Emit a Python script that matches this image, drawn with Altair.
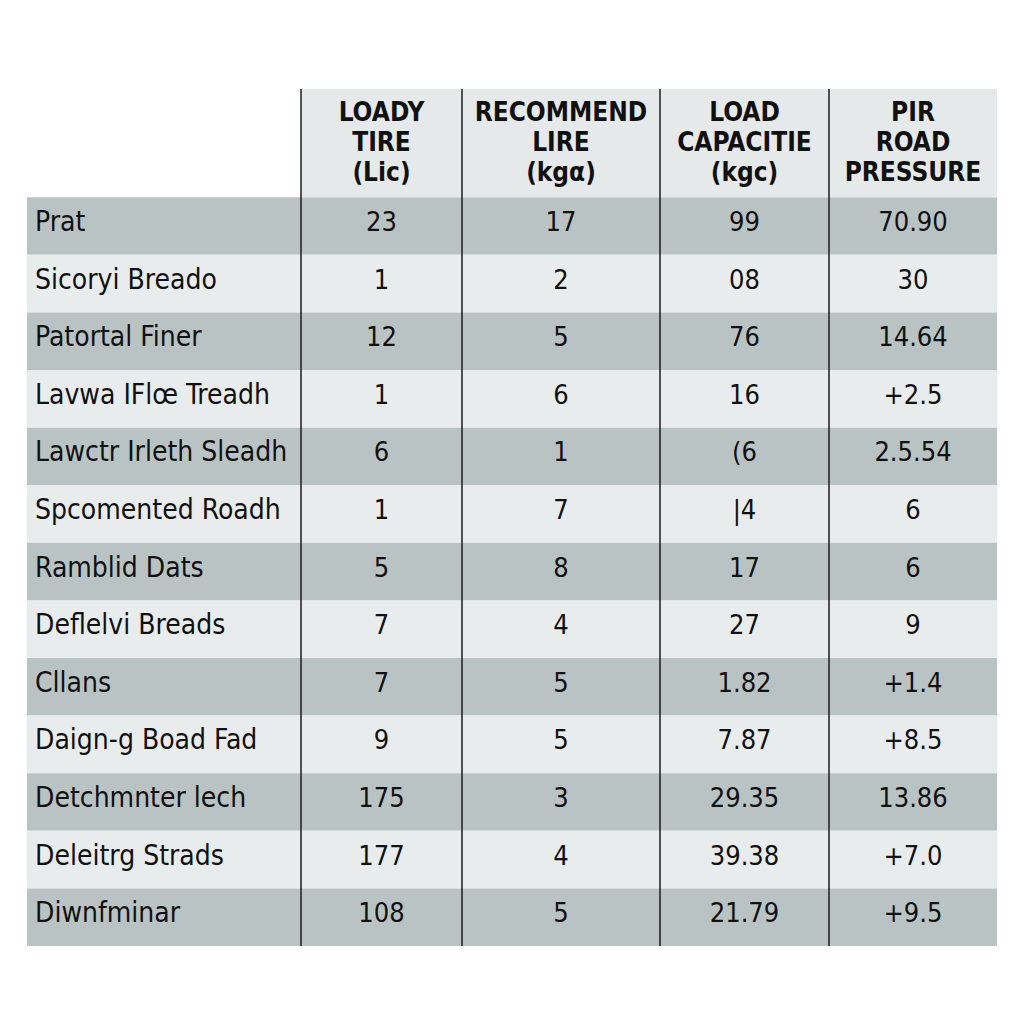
import altair as alt
import pandas as pd

# ---- data ----
headers = ["", "LOADY\nTIRE\n(Lic)", "RECOMMEND\nLIRE\n(kgα)", "LOAD\nCAPACITIE\n(kgc)", "PIR\nROAD\nPRESSURE"]
row_labels = ["Prat", "Sicoryi Breado", "Patortal Finer", "Lavwa IFlœ Treadh",
              "Lawctr Irleth Sleadh", "Spcomented Roadh", "Ramblid Dats",
              "Deflelvi Breads", "Cllans", "Daign-g Boad Fad", "Detchmnter lech",
              "Deleitrg Strads", "Diwnfminar"]
col_loady = ["23", "1", "12", "1", "6", "1", "5", "7", "7", "9", "175", "177", "108"]
col_recommend = ["17", "2", "5", "6", "1", "7", "8", "4", "5", "5", "3", "4", "5"]
col_capacity = ["99", "08", "76", "16", "(6", "|4", "17", "27", "1.82", "7.87", "29.35", "39.38", "21.79"]
col_pressure = ["70.90", "30", "14.64", "+2.5", "2.5.54", "6", "6", "9", "+1.4", "+8.5", "13.86", "+7.0", "+9.5"]

# ---- layout (not data) ----
col_edges = [0, 274, 435, 633, 802, 970]   # column boundaries in table units
header_h = 1.88                            # header height in row units
n_rows = len(row_labels)
DARK, LIGHT, HEAD = "#bac3c3", "#e9ecec", "#e6e9e9"
FONT = "DejaVu Sans Condensed, Liberation Sans Narrow, sans-serif"

columns = [row_labels, col_loady, col_recommend, col_capacity, col_pressure]

cells = []
texts = []
for i in range(n_rows):
    for j in range(5):
        cells.append({"x": col_edges[j], "x2": col_edges[j + 1], "y": i, "y2": i + 1,
                      "fill": DARK if i % 2 == 0 else LIGHT})
        if j == 0:
            texts.append({"xt": col_edges[0], "yt": i + 0.5, "t": columns[j][i], "kind": "label"})
        else:
            texts.append({"xt": (col_edges[j] + col_edges[j + 1]) / 2, "yt": i + 0.5,
                          "t": columns[j][i], "kind": "num"})
for j in range(1, 5):
    cells.append({"x": col_edges[j], "x2": col_edges[j + 1], "y": -header_h, "y2": 0, "fill": HEAD})

cells_df = pd.DataFrame(cells)
texts_df = pd.DataFrame(texts)
head_df = pd.DataFrame({"xt": [(col_edges[j] + col_edges[j + 1]) / 2 for j in range(1, 5)],
                        "yt": [-header_h / 2] * 4,
                        "t": headers[1:]})
lines_df = pd.DataFrame({"x": col_edges[1:5], "y": [-header_h] * 4, "y2": [n_rows] * 4})

xs = alt.Scale(domain=[col_edges[0], col_edges[-1]], nice=False, zero=False)
ys = alt.Scale(domain=[-header_h, n_rows], reverse=True, nice=False, zero=False)

rects = alt.Chart(cells_df).mark_rect(strokeWidth=0).encode(
    x=alt.X("x:Q", scale=xs, axis=None), x2="x2:Q",
    y=alt.Y("y:Q", scale=ys, axis=None), y2="y2:Q",
    fill=alt.Fill("fill:N", scale=None),
)

vlines = alt.Chart(lines_df).mark_rule(color="#1c1c1c", strokeWidth=1.5).encode(
    x=alt.X("x:Q", scale=xs, axis=None),
    y=alt.Y("y:Q", scale=ys, axis=None), y2="y2:Q",
)

labels = alt.Chart(texts_df).transform_filter(alt.datum.kind == "label").mark_text(
    align="left", baseline="middle", dx=8, dy=-3, font=FONT, fontSize=28, color="#111111"
).encode(
    x=alt.X("xt:Q", scale=xs, axis=None),
    y=alt.Y("yt:Q", scale=ys, axis=None),
    text="t:N",
)

nums = alt.Chart(texts_df).transform_filter(alt.datum.kind == "num").mark_text(
    align="center", baseline="middle", dy=-3, font=FONT, fontSize=27, color="#111111"
).encode(
    x=alt.X("xt:Q", scale=xs, axis=None),
    y=alt.Y("yt:Q", scale=ys, axis=None),
    text="t:N",
)

heads = alt.Chart(head_df).mark_text(
    align="center", baseline="middle", lineBreak="\n", lineHeight=30, dy=-30,
    font=FONT, fontSize=26, fontWeight="bold", color="#111111"
).encode(
    x=alt.X("xt:Q", scale=xs, axis=None),
    y=alt.Y("yt:Q", scale=ys, axis=None),
    text="t:N",
)

chart = alt.layer(rects, vlines, labels, nums, heads).properties(
    width=970, height=857,
    padding={"left": 19, "top": 80, "right": 19, "bottom": 71},
    background="white",
).configure_view(stroke=None)

chart.save("out.html", embed_options={"renderer": "svg", "actions": False})
